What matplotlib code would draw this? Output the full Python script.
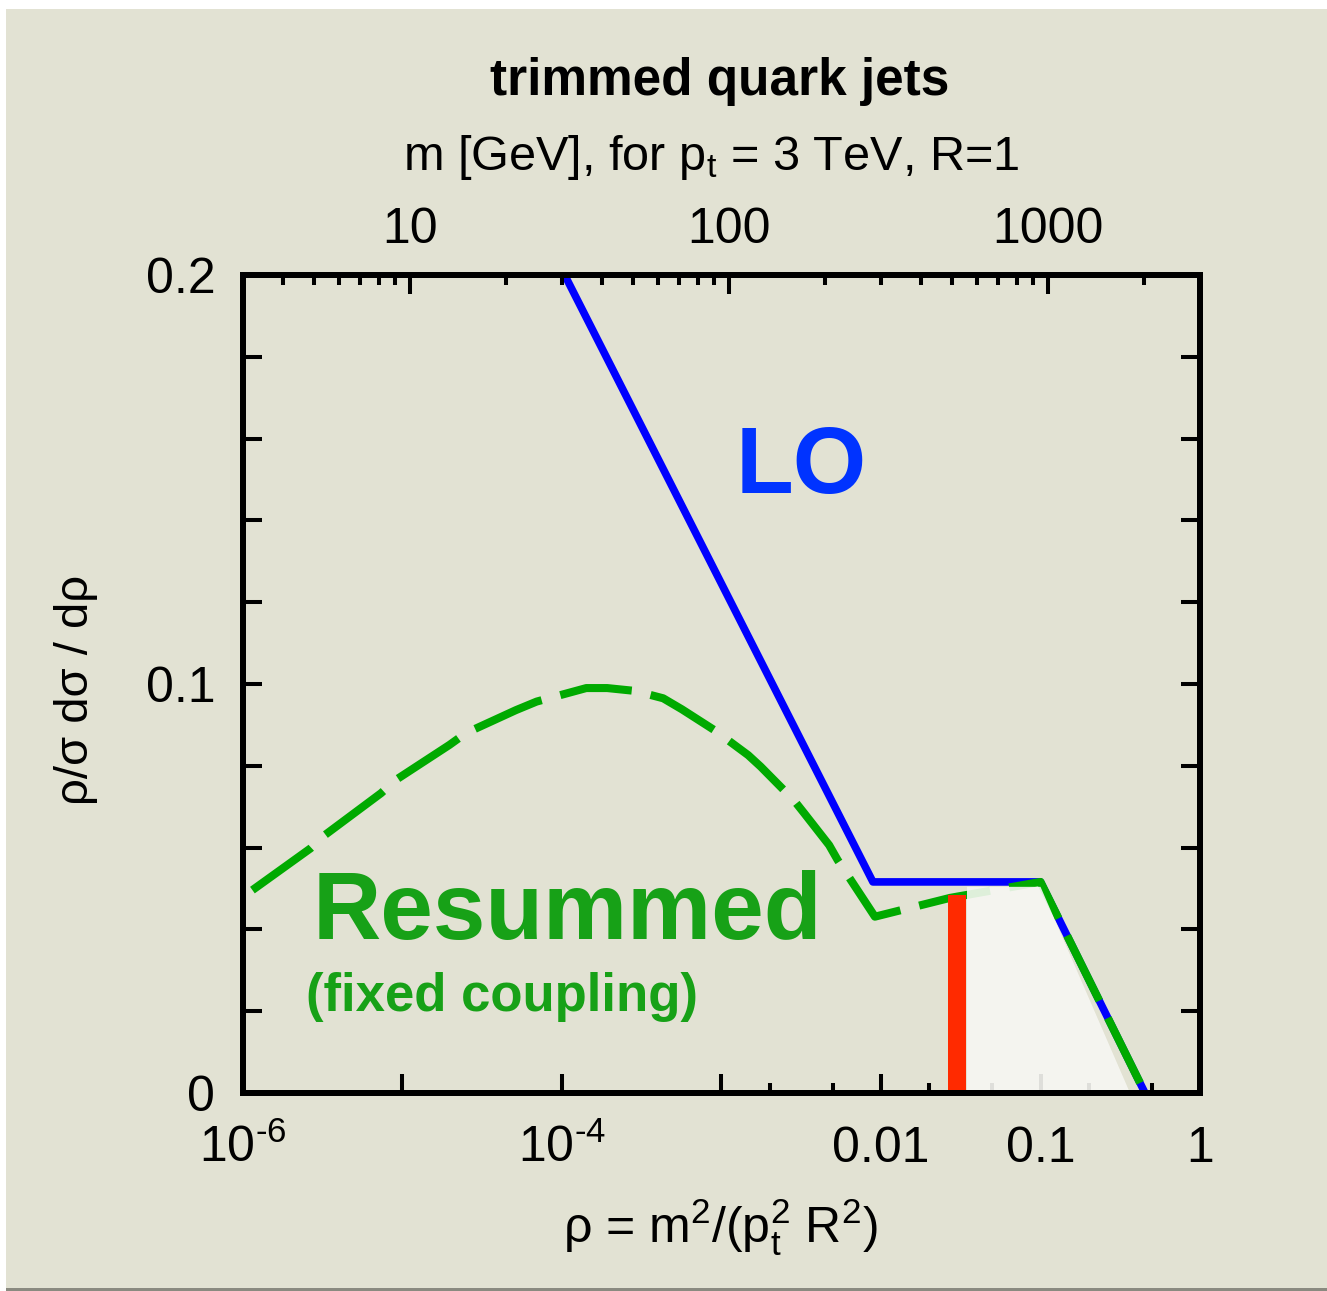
import matplotlib
matplotlib.use('Agg')
import matplotlib.pyplot as plt
from matplotlib.patches import Rectangle

# LO line: rho, rho/sigma dsigma/drho
rho_lo = [1.0e-4, 8.9e-3, 0.1, 0.452]
val_lo = [0.2013, 0.0516, 0.0516, 0.0]

# resummed (fixed coupling), dashed
rho_res = [1.146e-6, 2.65e-6, 3.27e-6, 7.34e-6, 9.05e-6, 1.97e-5, 2.50e-5, 5.14e-5,
           6.94e-5, 1.42e-4, 1.92e-4, 2.87e-4, 4.31e-4, 5.65e-4, 9.12e-4, 1.47e-3,
           1.76e-3, 2.84e-3, 3.30e-3, 4.73e-3, 5.34e-3, 9.16e-3, 0.0271, 0.1, 0.452]
val_res = [0.0496, 0.0598, 0.0631, 0.0733, 0.0765, 0.0851, 0.0880, 0.0936,
           0.0957, 0.0990, 0.0990, 0.0983, 0.0965, 0.0938, 0.0886, 0.0826,
           0.0798, 0.0716, 0.0684, 0.0606, 0.0570, 0.0431, 0.0477, 0.0516, 0.0]

# light shaded region and red band
rho_shade = [0.0346, 0.0346, 0.1, 0.364]
val_shade = [0.0, 0.0504, 0.0504, 0.0]
band_lo, band_hi, band_top = 0.0263, 0.0341, 0.0484

# top axis: mass in GeV for pt = 3 TeV, R = 1
pt, R = 3000.0, 1.0
m_major = [10, 100, 1000]
m_minor = [4, 5, 6, 7, 8, 9, 20, 30, 40, 50, 60, 70, 80, 90,
           200, 300, 400, 500, 600, 700, 800, 900, 2000]

x_major = [1e-6, 1e-5, 1e-4, 1e-3, 1e-2, 1e-1, 1]
x_labels = [r'10$^{\text{-}6}$', '', r'10$^{\text{-}4}$', '', '0.01', '0.1', '1']
x_minor = [0.002, 0.005, 0.02, 0.05, 0.2, 0.5]
y_ticks = [0, 0.02, 0.04, 0.06, 0.08, 0.1, 0.12, 0.14, 0.16, 0.18, 0.2]
y_labels = ['0', '', '', '', '', '0.1', '', '', '', '', '0.2']

bg = '#e2e2d3'
blue = '#0000ff'
green = '#00aa00'
tgreen = '#17a117'

plt.rcParams['font.family'] = ['Liberation Sans', 'DejaVu Sans']
plt.rcParams['mathtext.fontset'] = 'custom'
plt.rcParams['mathtext.rm'] = 'Liberation Sans'
plt.rcParams['mathtext.default'] = 'regular'

fig = plt.figure(figsize=(13.27, 12.91), dpi=100, facecolor='white')
fig.patches.append(Rectangle((6 / 1327, 3 / 1291), 1 - 6 / 1327, 1 - 12 / 1291,
                             transform=fig.transFigure, facecolor=bg, edgecolor='none', zorder=-10))
fig.patches.append(Rectangle((6 / 1327, 0), 1 - 6 / 1327, 3 / 1291,
                             transform=fig.transFigure, facecolor='#8a8a80', edgecolor='none', zorder=-10))

ax = fig.add_axes([0.1831, 0.1534, 0.7212, 0.6336])
ax.set_facecolor('none')
ax.set_axisbelow(True)

ax.plot(rho_lo, val_lo, color=blue, lw=5.5, solid_capstyle='butt', zorder=2)
ax.plot(rho_res, val_res, color=green, lw=5.8, dashes=(9, 2.4),
        dash_capstyle='butt', zorder=2.1)
ax.fill(rho_shade, val_shade, color='#f7f7f3', alpha=0.9, lw=0, zorder=2.2)
ax.fill_betweenx([0, band_top], band_lo, band_hi, color='#ff2a00', lw=0, zorder=2.3)

ax.set_xscale('log')
ax.set_xlim(1e-6, 1)
ax.set_ylim(0, 0.2)

ax.set_xticks(x_major)
ax.set_xticklabels(x_labels)
ax.set_xticks(x_minor, minor=True)
ax.set_xticklabels([], minor=True)
ax.set_yticks(y_ticks)
ax.set_yticklabels(y_labels)
ax.tick_params(which='both', direction='in', width=2.9, top=False, right=True,
               labelsize=36, color='black')
ax.tick_params(axis='x', which='major', length=13.7, pad=50)
ax.tick_params(axis='x', which='minor', length=7.2)
ax.tick_params(axis='y', length=13.7, pad=20)
for lbl in ax.get_xticklabels():
    lbl.set_verticalalignment('baseline')
for s in ax.spines.values():
    s.set_linewidth(4.3)

ax.set_xlabel(r'$\rho$ = m$^2$/(p$_t^2$ R$^2$)', fontsize=36, va='baseline')
ax.xaxis.set_label_coords(0.4984, -0.1834)
ax.set_ylabel('ρ/σ dσ / dρ', fontsize=34)
ax.yaxis.set_label_coords(-0.1515, 0.4927)

ax2 = ax.twiny()
ax2.set_xscale('log')
ax2.set_xlim(1e-6, 1)
ax2.set_xticks([(m / (pt * R)) ** 2 for m in m_major])
ax2.set_xticklabels([str(m) for m in m_major])
ax2.set_xticks([(m / (pt * R)) ** 2 for m in m_minor], minor=True)
ax2.set_xticklabels([], minor=True)
ax2.tick_params(which='both', direction='in', width=2.9, labelsize=36, pad=16)
ax2.tick_params(which='major', length=13.7)
ax2.tick_params(which='minor', length=7.2)
for s in ax2.spines.values():
    s.set_linewidth(4.3)
ax2.set_xlabel('m [GeV], for p$_t$ = 3 TeV, R=1', fontsize=35, va='baseline')
ax2.xaxis.set_label_coords(0.4896, 1.128)

fig.text(0.5426, 1 - 95 / 1291, 'trimmed quark jets', fontsize=37, fontweight='bold',
         ha='center', va='baseline')

ax.text(1.22e-3, 0.1467, 'LO', color='#0033ff', fontsize=68, fontweight='bold',
        ha='left', va='baseline')
ax.text(2.75e-6, 0.0377, 'Resummed', color=tgreen, fontsize=68, fontweight='bold',
        ha='left', va='baseline')
ax.text(2.48e-6, 0.0200, '(fixed coupling)', color=tgreen, fontsize=38, fontweight='bold',
        ha='left', va='baseline')

fig.savefig('out.png', dpi=100, facecolor=fig.get_facecolor())
